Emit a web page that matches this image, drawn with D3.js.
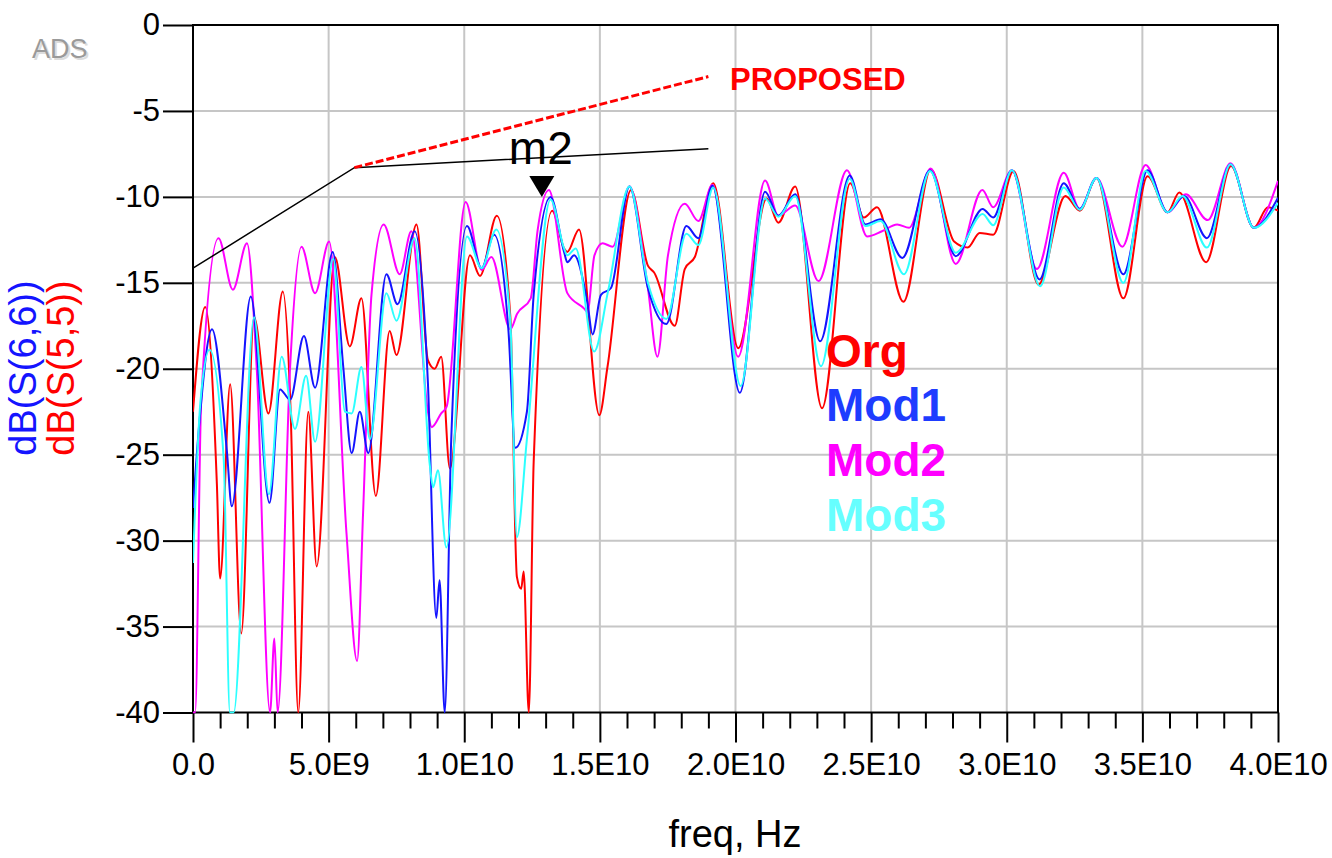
<!DOCTYPE html>
<html>
<head>
<meta charset="utf-8">
<script src="https://cdn.jsdelivr.net/npm/d3@7"></script>
<style>
  body { margin: 0; background: #fff; }
  text { font-family: "Liberation Sans", Arial, sans-serif; }
</style>
</head>
<body>
<script>
// tick labels
const xTicks = [0, 5e9, 1e10, 1.5e10, 2e10, 2.5e10, 3e10, 3.5e10, 4e10];
const xTickLabels = ["0.0", "5.0E9", "1.0E10", "1.5E10", "2.0E10", "2.5E10", "3.0E10", "3.5E10", "4.0E10"];
const yTicks = [0, -5, -10, -15, -20, -25, -30, -35, -40];

// Org  (dB(S(5,5)))  freq in GHz
const orgFreq = [0, 0.45, 0.88, 1.0, 1.37, 1.78, 2.25, 2.78, 3.31, 3.6, 3.88, 4.25, 4.56, 5.23, 5.78, 6.21, 6.74, 7.25, 7.5, 8.24, 8.66, 8.91, 9.15, 9.47, 10.21, 10.58, 11.2, 11.7, 11.94, 12.1, 12.19, 12.38, 12.56, 13.24, 13.68, 13.8, 14.23, 14.98, 15.28, 16.15, 16.77, 17.0, 17.76, 18.13, 18.5, 19.18, 20.1, 21.15, 21.58, 22.2, 23.19, 24.23, 24.73, 25.22, 26.19, 27.2, 28.06, 28.56, 29.0, 29.5, 30.25, 31.17, 32.16, 32.69, 33.31, 34.3, 35.19, 35.93, 36.36, 37.35, 38.27, 39.11, 39.63, 40.0];
const orgDb = [-22.5, -16.4, -26.7, -32.2, -20.9, -35.4, -17.0, -22.6, -15.5, -22.5, -40, -22.5, -31.5, -13.5, -18.7, -15.9, -27.4, -17.8, -19.2, -11.6, -19.5, -20.0, -19.3, -25.8, -13.4, -14.6, -11.1, -17.0, -32.1, -32.8, -31.8, -40, -25.4, -10.8, -13.0, -13.2, -11.9, -22.7, -19.9, -9.6, -14.0, -14.4, -17.5, -14.2, -13.5, -9.2, -18.8, -10.1, -11.5, -9.4, -22.3, -9.2, -11.2, -10.6, -16.1, -8.4, -12.6, -12.95, -12.1, -12.2, -8.5, -15.1, -9.95, -10.8, -8.9, -15.9, -8.8, -10.9, -9.75, -13.8, -8.2, -11.8, -10.6, -10.8];

// Mod1 (dB(S(6,6)))
const mod1Freq = [0, 0.21, 0.7, 1.25, 1.43, 2.13, 2.82, 3.21, 3.58, 4.09, 4.5, 5.15, 5.54, 5.85, 6.15, 6.46, 7.13, 7.54, 8.17, 8.66, 8.97, 9.09, 9.28, 9.52, 10.1, 10.64, 11.1, 11.63, 11.88, 12.31, 12.56, 13.18, 13.68, 13.8, 14.05, 14.54, 14.73, 15.04, 15.41, 16.09, 16.77, 17.45, 18.19, 18.63, 19.15, 20.16, 21.09, 21.58, 22.2, 23.12, 24.21, 24.79, 25.35, 26.15, 27.17, 28.12, 29.11, 29.5, 30.19, 31.21, 32.1, 32.69, 33.31, 34.3, 35.19, 35.93, 36.54, 37.38, 38.25, 39.11, 40.0];
const mod1Db = [-28.1, -23.6, -17.7, -24.8, -28.0, -15.8, -27.8, -21.2, -21.8, -18.1, -21.1, -13.2, -19.9, -24.9, -22.5, -24.9, -14.5, -16.25, -12.0, -20.8, -34.5, -32.3, -40, -24.1, -11.7, -14.15, -12.2, -17.8, -24.6, -22.5, -15.7, -10.0, -13.2, -13.8, -13.4, -16.15, -18.0, -15.7, -15.3, -9.4, -15.3, -17.4, -11.7, -12.4, -9.35, -21.4, -9.7, -11.1, -9.85, -18.4, -8.75, -11.6, -11.3, -13.55, -8.45, -13.45, -10.7, -11.2, -8.45, -14.8, -9.2, -10.7, -8.9, -14.5, -8.45, -10.9, -9.95, -12.4, -8.1, -11.8, -10.05];

// Mod2
const mod2Freq = [0, 0.08, 0.3, 0.94, 1.47, 1.99, 2.35, 2.84, 3.0, 3.12, 3.58, 4.0, 4.5, 5.02, 5.66, 6.05, 6.27, 6.58, 7.03, 7.62, 8.05, 8.66, 8.8, 9.15, 9.35, 10.05, 10.64, 11.0, 11.7, 11.95, 12.45, 12.7, 13.12, 13.8, 14.42, 14.54, 14.8, 15.1, 15.47, 16.09, 16.77, 17.12, 17.51, 18.13, 18.63, 19.15, 20.1, 21.09, 21.58, 22.2, 23.06, 24.11, 24.85, 25.4, 25.96, 26.4, 27.2, 28.12, 29.1, 29.5, 30.19, 31.11, 32.1, 32.69, 33.31, 34.26, 35.12, 35.93, 36.6, 37.41, 38.25, 39.11, 40.0];
const mod2Db = [-40, -40, -22, -12.4, -15.4, -12.7, -20, -40, -35.7, -40, -19.9, -12.9, -15.6, -12.6, -29.6, -37.0, -28.4, -15.7, -11.6, -14.5, -12.0, -22.5, -23.4, -22.6, -22.2, -10.3, -14.25, -13.5, -17.7, -16.8, -15.9, -12.0, -9.6, -15.6, -16.5, -16.7, -13.4, -12.7, -12.9, -9.4, -15.3, -19.3, -13.4, -10.4, -11.4, -9.3, -19.3, -9.05, -11.1, -10.5, -14.9, -8.45, -12.3, -12.0, -11.6, -11.8, -8.35, -13.9, -9.6, -10.6, -8.45, -14.2, -8.6, -10.7, -8.9, -12.9, -8.15, -10.9, -9.85, -11.35, -8.05, -11.8, -9.07];

// Mod3
const mod3Freq = [0, 0.27, 0.61, 1.13, 1.36, 1.5, 2.25, 2.8, 3.27, 3.76, 4.17, 4.5, 5.17, 5.6, 5.85, 6.21, 6.52, 7.13, 7.5, 8.17, 8.73, 8.85, 9.03, 9.34, 10.1, 10.64, 11.18, 11.7, 11.94, 12.31, 13.18, 13.68, 13.8, 14.11, 14.79, 15.3, 16.09, 16.77, 17.45, 18.19, 18.63, 19.18, 20.19, 21.09, 21.58, 22.2, 23.15, 24.21, 24.79, 25.35, 26.21, 27.17, 28.12, 29.11, 29.5, 30.19, 31.23, 32.1, 32.69, 33.31, 34.3, 35.12, 35.93, 36.48, 37.38, 38.25, 39.11, 40.0];
const mod3Db = [-31.3, -22, -18.9, -25.2, -40, -40, -17.0, -27.3, -19.3, -23.5, -20.4, -24.25, -13.6, -22.5, -22.6, -19.9, -24.1, -15.6, -17.2, -12.4, -25.6, -26.9, -25.9, -30.4, -12.3, -14.15, -11.9, -17.3, -29.8, -24.1, -10.15, -13.0, -13.4, -13.0, -19.0, -15.5, -9.4, -15.0, -17.1, -12.15, -12.8, -9.45, -21.0, -10.1, -11.15, -9.95, -19.85, -8.95, -11.7, -11.4, -14.5, -8.5, -13.25, -11.0, -11.65, -8.45, -15.2, -9.45, -10.75, -8.9, -15.0, -8.5, -10.9, -9.95, -12.95, -8.1, -11.8, -10.35];

// mask lines
const maskFreq = [0, 5.95, 19.0];
const maskDb = [-14.15, -8.3, -7.2];
const proposedFreq = [5.95, 19.0];
const proposedDb = [-8.3, -3.0];

// marker m2
const markerFreq = 12.86;
const markerDb = -10.0;

const legendNames = ["Org", "Mod1", "Mod2", "Mod3"];
const legendColors = ["#ff0000", "#1e3cff", "#ff00ff", "#66ffff"];

const W = 1332, H = 858;
const pLeft = 193, pRight = 1278, pTop = 25, pBottom = 712.5;

const svg = d3.select("body").append("svg")
    .attr("width", W)
    .attr("height", H);

svg.append("rect").attr("width", W).attr("height", H).attr("fill", "#fff");

const x = d3.scaleLinear().domain([0, 4e10]).range([pLeft, pRight]);
const y = d3.scaleLinear().domain([-40, 0]).range([pBottom, pTop]);

// grid
svg.append("g")
    .selectAll("line")
    .data(xTicks.slice(1, -1))
    .enter().append("line")
    .attr("x1", d => x(d)).attr("x2", d => x(d))
    .attr("y1", pTop).attr("y2", pBottom)
    .attr("stroke", "#c6c6c6").attr("stroke-width", 2);
svg.append("g")
    .selectAll("line")
    .data(yTicks.slice(1, -1))
    .enter().append("line")
    .attr("x1", pLeft).attr("x2", pRight)
    .attr("y1", d => y(d)).attr("y2", d => y(d))
    .attr("stroke", "#c6c6c6").attr("stroke-width", 2);

// axes
const yAxis = svg.append("g")
    .attr("transform", `translate(${pLeft},0)`)
    .call(d3.axisLeft(y).tickValues(yTicks).tickSize(30).tickPadding(3).tickFormat(d => d));
const xAxis = svg.append("g")
    .attr("transform", `translate(0,${pBottom})`)
    .call(d3.axisBottom(x).tickValues(xTicks).tickSize(30).tickPadding(10)
        .tickFormat((d, i) => xTickLabels[i]));
svg.append("g")
    .attr("transform", `translate(0,${pBottom})`)
    .call(d3.axisBottom(x).tickValues(d3.range(0, 41).map(v => v * 1e9).filter(v => v % 5e9 !== 0))
        .tickSize(16).tickFormat(""))
    .select(".domain").remove();

[yAxis, xAxis].forEach(a => {
    a.select(".domain").remove();
    a.selectAll("text").attr("font-size", 31).attr("fill", "#000")
        .style("font-family", '"Liberation Sans", Arial, sans-serif');
});
svg.selectAll(".tick line").attr("stroke", "#000").attr("stroke-width", 2);

// frame
svg.append("rect")
    .attr("x", pLeft).attr("y", pTop)
    .attr("width", pRight - pLeft).attr("height", pBottom - pTop)
    .attr("fill", "none").attr("stroke", "#000").attr("stroke-width", 2);

// curves
svg.append("clipPath").attr("id", "clip")
    .append("rect").attr("x", pLeft).attr("y", pTop - 1)
    .attr("width", pRight - pLeft).attr("height", pBottom - pTop + 2);

const line = d3.line()
    .x(d => x(d[0] * 1e9))
    .y(d => y(d[1]))
    .curve(d3.curveMonotoneX);

const series = [
    { f: orgFreq, v: orgDb, color: "#ff0000" },
    { f: mod2Freq, v: mod2Db, color: "#ff00ff" },
    { f: mod1Freq, v: mod1Db, color: "#1414ff" },
    { f: mod3Freq, v: mod3Db, color: "#2cffff" }
];

const plot = svg.append("g").attr("clip-path", "url(#clip)");
series.forEach(s => {
    plot.append("path")
        .datum(s.f.map((f, i) => [f, s.v[i]]))
        .attr("d", line)
        .attr("fill", "none")
        .attr("stroke", s.color)
        .attr("stroke-width", 2);
});

// mask lines
svg.append("path")
    .datum(maskFreq.map((f, i) => [f, maskDb[i]]))
    .attr("d", d3.line().x(d => x(d[0] * 1e9)).y(d => y(d[1])))
    .attr("fill", "none").attr("stroke", "#000").attr("stroke-width", 1.5);
svg.append("path")
    .datum(proposedFreq.map((f, i) => [f, proposedDb[i]]))
    .attr("d", d3.line().x(d => x(d[0] * 1e9)).y(d => y(d[1])))
    .attr("fill", "none").attr("stroke", "#ff0000").attr("stroke-width", 3)
    .attr("stroke-dasharray", "8,3");

svg.append("text")
    .attr("x", 730).attr("y", 90)
    .attr("font-size", 31).attr("font-weight", "bold").attr("fill", "#ff0000")
    .text("PROPOSED");

// marker
const mx = x(markerFreq * 1e9), my = y(markerDb);
svg.append("path")
    .attr("d", `M${mx - 12.5},${my - 21} L${mx + 12.5},${my - 21} L${mx},${my} Z`)
    .attr("fill", "#000");
svg.append("text")
    .attr("x", mx - 33).attr("y", my - 33)
    .attr("font-size", 46).attr("fill", "#000")
    .text("m2");

// legend text
legendNames.forEach((n, i) => {
    svg.append("text")
        .attr("x", 826).attr("y", [367, 421, 476, 531][i])
        .attr("font-size", 46).attr("font-weight", "bold")
        .attr("fill", legendColors[i])
        .text(n);
});

// axis titles
svg.append("text")
    .attr("x", 735).attr("y", 847)
    .attr("text-anchor", "middle").attr("font-size", 38).attr("fill", "#000")
    .text("freq, Hz");
svg.append("text")
    .attr("transform", "translate(36,368) rotate(-90)")
    .attr("text-anchor", "middle").attr("font-size", 38).attr("fill", "#1414ff")
    .text("dB(S(6,6))");
svg.append("text")
    .attr("transform", "translate(74,368) rotate(-90)")
    .attr("text-anchor", "middle").attr("font-size", 38).attr("fill", "#ff0000")
    .text("dB(S(5,5))");

// ADS logo
svg.append("text")
    .attr("x", 34).attr("y", 60)
    .attr("font-size", 27).attr("fill", "#dcdcdc")
    .text("ADS");
svg.append("text")
    .attr("x", 32).attr("y", 58)
    .attr("font-size", 27).attr("fill", "#9a9a9a")
    .text("ADS");
</script>
</body>
</html>
